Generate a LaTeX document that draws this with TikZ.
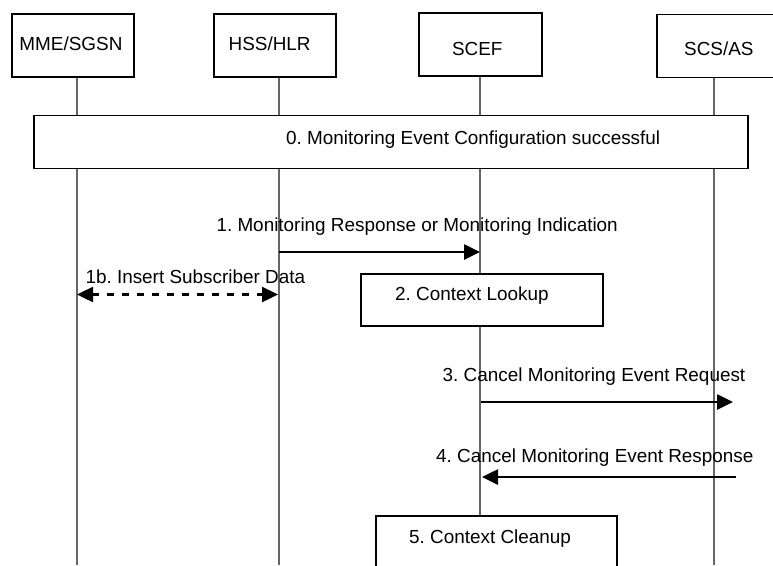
\documentclass[tikz,border=0pt]{standalone}
\usepackage{fontspec}
\setmainfont{Liberation Sans}
\usetikzlibrary{arrows.meta}
\frenchspacing
\tikzset{
  txt/.style={font=\fontsize{18.9}{22}\selectfont\frenchspacing, inner sep=0pt, anchor=base west},
  hdrbox/.style={draw=black, line width=1.3pt, fill=white, minimum height=63pt, inner sep=0pt},
  procbox/.style={draw=black, line width=1.3pt, fill=white, inner sep=0pt},
  lifeline/.style={draw=black!60, line width=1.1pt},
  msg/.style={draw=black, line width=2.6pt, -{Triangle[length=16pt,width=15pt]}},
  dmsg/.style={draw=black, line width=2.4pt, dash pattern=on 7pt off 8pt, {Triangle[length=16pt,width=15pt]}-{Triangle[length=16pt,width=15pt]}}
}
\begin{document}
\begin{tikzpicture}[x=1pt,y=1pt]
\useasboundingbox (0,0) rectangle (773,-565);
% header boxes
\node[hdrbox, minimum width=122pt] (mme) at (73,-45.5) {};
\node[hdrbox, minimum width=122pt] (hss) at (275,-45.5) {};
\node[hdrbox, minimum width=123pt] (scef) at (480.5,-44.5) {};
\node[hdrbox, minimum width=130pt] (scs) at (722,-46) {};
\node[txt] (mmeT) at (19.3,-50.5) {MME/SGSN};
\node[txt] (hssT) at (228.5,-50.5) {HSS/HLR};
\node[txt] (scefT) at (451.8,-55) {SCEF};
\node[txt] (scsT) at (684,-55) {SCS/AS};
% lifeline ends
\coordinate (mmeE) at (77,-565);
\coordinate (hssE) at (279,-565);
\coordinate (scefE) at (480,-565);
\coordinate (scsE) at (714,-565);
\draw[lifeline] (mme.south -| mmeE) -- (mmeE);
\draw[lifeline] (hss.south -| hssE) -- (hssE);
\draw[lifeline] (scef.south -| scefE) -- (scefE);
\draw[lifeline] (scs.south -| scsE) -- (scsE);
% step 0
\node[procbox, minimum width=714pt, minimum height=52.5pt] (s0) at (391,-142) {};
\node[txt] (s0T) at (286,-144) {0. Monitoring Event Configuration successful};
% step 1
\coordinate (hss1) at (279,-252);
\coordinate (scef1) at (480,-252);
\node[txt] (m1T) at (216.3,-231.7) {1. Monitoring Response or Monitoring Indication};
\draw[msg] (hss1) -- (scef1);
% step 1b
\coordinate (mme1b) at (77,-294.5);
\coordinate (hss1b) at (278,-294.5);
\node[txt] (m1bT) at (85.3,-283.3) {1b. Insert Subscriber Data};
\draw[dmsg] (mme1b) -- (hss1b);
% step 2
\node[procbox, minimum width=242pt, minimum height=52pt] (s2) at (482,-300) {};
\node[txt] (s2T) at (395,-300.7) {2. Context Lookup};
% step 3
\coordinate (scef3) at (481,-402);
\coordinate (scs3) at (733,-402);
\node[txt] (m3T) at (442.5,-381.7) {3. Cancel Monitoring Event Request};
\draw[msg] (scef3) -- (scs3);
% step 4
\coordinate (scs4) at (736,-477);
\coordinate (scef4) at (482,-477);
\node[txt] (m4T) at (436,-462.7) {4. Cancel Monitoring Event Response};
\draw[msg] (scs4) -- (scef4);
% step 5
\node[procbox, minimum width=241pt, minimum height=70pt] (s5) at (496.5,-551) {};
\node[txt] (s5T) at (409,-543.3) {5. Context Cleanup};
\end{tikzpicture}
\end{document}
